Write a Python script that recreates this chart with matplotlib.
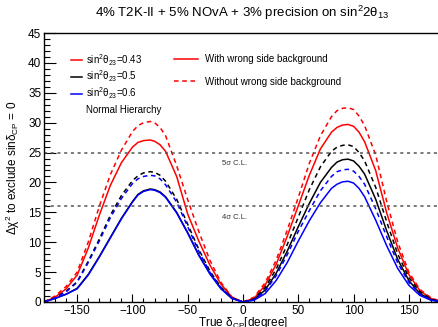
import matplotlib
matplotlib.use("Agg")
import matplotlib.pyplot as plt
from matplotlib.lines import Line2D
from matplotlib.ticker import MultipleLocator

plt.rcParams['font.family'] = ['Liberation Sans', 'DejaVu Sans']
plt.rcParams['mathtext.fontset'] = 'custom'
plt.rcParams['mathtext.rm'] = 'Liberation Sans'
plt.rcParams['mathtext.it'] = 'Liberation Sans'

# true delta_CP sampling (degree)
delta_left = [-180, -170, -160, -150, -140, -130, -120, -110, -100, -95, -90,
              -84, -80, -75, -70, -60, -50, -40, -30, -20, -10, 0]
delta_right = [0, 10, 20, 30, 40, 50, 60, 70, 80, 85, 90,
               95, 100, 105, 110, 120, 130, 140, 150, 160, 170, 180]

# left lobe (delta < 0)
red_solid_L = [0, 0.8, 2.2, 4.5, 9.0, 14.5, 19.5, 23.3, 25.9, 26.7, 27.0,
               27.1, 26.9, 26.3, 25.2, 21.0, 14.7, 10.2, 6.2, 3.0, 0.8, 0]
red_dash_L = [0, 1.0, 2.6, 5.0, 10.0, 16.0, 21.3, 25.4, 28.5, 29.5, 30.0,
              30.2, 30.0, 29.2, 27.8, 22.8, 17.1, 11.8, 7.0, 3.3, 0.8, 0]
black_solid_L = [0, 0.6, 1.3, 2.3, 4.6, 7.6, 10.8, 14.0, 16.8, 18.0, 18.6,
                 18.9, 18.8, 18.4, 17.6, 15.0, 11.6, 7.9, 4.8, 2.3, 0.6, 0]
black_dash_L = [0, 0.7, 1.8, 3.4, 6.8, 10.5, 14.5, 17.8, 20.3, 21.1, 21.6,
                21.8, 21.7, 21.2, 20.2, 17.2, 13.0, 8.8, 5.2, 2.5, 0.7, 0]
blue_solid_L = [0, 0.6, 1.3, 2.2, 4.5, 7.5, 10.7, 13.9, 16.7, 17.9, 18.5,
                18.8, 18.7, 18.3, 17.5, 14.9, 11.5, 7.8, 4.7, 2.2, 0.6, 0]
blue_dash_L = [0, 0.7, 1.7, 3.3, 6.6, 10.2, 14.1, 17.3, 19.8, 20.6, 21.0,
               21.2, 21.1, 20.6, 19.6, 16.7, 12.6, 8.5, 5.0, 2.4, 0.6, 0]

# right lobe (delta > 0)
red_solid_R = [0, 0.6, 2.8, 6.3, 11.0, 16.1, 21.2, 25.6, 28.4, 29.2, 29.6,
               29.7, 29.4, 28.4, 26.8, 22.0, 14.9, 9.0, 4.6, 1.9, 0.6, 0]
red_dash_R = [0, 0.8, 3.2, 7.0, 12.0, 17.5, 23.2, 27.8, 31.0, 32.0, 32.4,
              32.5, 32.2, 31.1, 29.5, 24.6, 16.8, 10.0, 5.0, 2.1, 0.7, 0]
black_solid_R = [0, 0.4, 2.0, 4.8, 8.5, 12.6, 16.5, 20.0, 22.5, 23.4, 23.8,
                 23.9, 23.6, 22.7, 21.4, 17.2, 11.9, 7.1, 3.6, 1.4, 0.4, 0]
black_dash_R = [0, 0.5, 2.4, 5.5, 9.6, 14.2, 18.8, 22.6, 25.2, 25.9, 26.2,
                26.3, 26.0, 25.0, 23.6, 19.2, 13.4, 8.0, 4.1, 1.7, 0.5, 0]
blue_solid_R = [0, 0.3, 1.4, 3.6, 6.6, 10.2, 13.6, 16.6, 19.0, 19.7, 20.1,
                20.2, 19.9, 19.0, 17.6, 13.7, 9.4, 5.6, 2.8, 1.1, 0.3, 0]
blue_dash_R = [0, 0.4, 1.8, 4.4, 7.9, 11.8, 15.3, 18.6, 21.0, 21.8, 22.1,
               22.2, 21.9, 21.0, 19.7, 15.6, 10.9, 6.5, 3.3, 1.3, 0.4, 0]

cl_levels = [25, 16]
cl_labels = ['5\u03c3 C.L.', '4\u03c3 C.L.']

fig = plt.figure(figsize=(4.39, 3.27), dpi=100)
ax = fig.add_axes([44 / 439, 25 / 327, 398 / 439, 269 / 327])

lw = 1.1
dash = (3.0, 2.4)
curves = [
    ('red', red_solid_L, red_dash_L, red_solid_R, red_dash_R),
    ('black', black_solid_L, black_dash_L, black_solid_R, black_dash_R),
    ('blue', blue_solid_L, blue_dash_L, blue_solid_R, blue_dash_R),
]
for col, sl, dl, sr, dr in curves:
    ax.plot(delta_left, sl, color=col, lw=lw)
    ax.plot(delta_right, sr, color=col, lw=lw)
    ax.plot(delta_left, dl, color=col, lw=lw, dashes=dash)
    ax.plot(delta_right, dr, color=col, lw=lw, dashes=dash)

for lev, lab in zip(cl_levels, cl_labels):
    ax.axhline(lev, color='#555555', lw=1.1, dashes=(2, 2.4))
    ax.text(-19, lev - 1.8, lab, fontsize=5.5, color='#333333', va='center')

ax.set_xlim(-180, 180)
ax.set_ylim(0, 45)
ax.xaxis.set_major_locator(MultipleLocator(50))
ax.xaxis.set_minor_locator(MultipleLocator(10))
ax.yaxis.set_major_locator(MultipleLocator(5))
ax.yaxis.set_minor_locator(MultipleLocator(1))
ax.tick_params(axis='both', which='both', direction='in', labelsize=8.5,
               width=0.8, pad=2)
ax.tick_params(axis='x', which='major', length=5.8)
ax.tick_params(axis='x', which='minor', length=2.9)
ax.tick_params(axis='y', which='major', length=8.6)
ax.tick_params(axis='y', which='minor', length=4.3)
for sp in ax.spines.values():
    sp.set_linewidth(1.0)

ax.set_xlabel('True \u03b4$_{CP}$[degree]', fontsize=8.5, labelpad=-1)
ax.set_ylabel('\u0394\u03c7$^{2}$ to exclude sin\u03b4$_{CP}$ = 0',
              fontsize=8.5, labelpad=4)
fig.text(242 / 439, 1 - 13 / 327,
         '4% T2K-II + 5% NOvA + 3% precision on sin$^{2}$2\u03b8$_{13}$',
         ha='center', va='center', fontsize=9.5)

h1 = [Line2D([], [], color=c, lw=lw) for c in ['red', 'black', 'blue']]
l1 = ['sin$^{2}$\u03b8$_{23}$=0.43', 'sin$^{2}$\u03b8$_{23}$=0.5',
      'sin$^{2}$\u03b8$_{23}$=0.6']
leg1 = ax.legend(h1, l1, loc='upper left', bbox_to_anchor=(71 / 439, 1 - 52 / 327),
                 bbox_transform=fig.transFigure, frameon=False, fontsize=7,
                 borderpad=0, borderaxespad=0, handlelength=1.15,
                 handletextpad=0.4, labelspacing=0.1)
ax.add_artist(leg1)
fig.text(86 / 439, 1 - 110 / 327, 'Normal Hierarchy', fontsize=7, va='center')

h2 = [Line2D([], [], color='red', lw=lw),
      Line2D([], [], color='red', lw=lw, dashes=dash)]
l2 = ['With wrong side background', 'Without wrong side background']
ax.legend(h2, l2, loc='upper left', bbox_to_anchor=(174 / 439, 1 - 54 / 327),
          bbox_transform=fig.transFigure, frameon=False, fontsize=7,
          borderpad=0, borderaxespad=0, handlelength=2.5,
          handletextpad=0.7, labelspacing=1.3)

fig.savefig('out.png', dpi=100)
